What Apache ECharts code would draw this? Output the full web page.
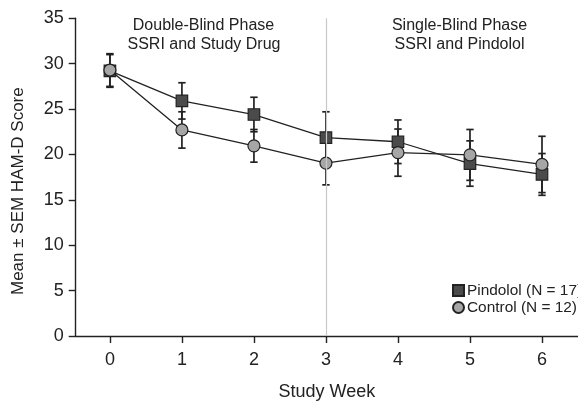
<!DOCTYPE html>
<html>
<head>
<meta charset="utf-8">
<script src="https://cdn.jsdelivr.net/npm/echarts@6/dist/echarts.min.js"></script>
<style>
html,body{margin:0;padding:0;background:#fff;}
#chart{width:578px;height:406px;}
</style>
</head>
<body>
<div id="chart"></div>
<script>
// ---- data ----
var weeks = [0, 1, 2, 3, 4, 5, 6];
var pindololMean = [29.2, 25.9, 24.4, 21.85, 21.4, 19.0, 17.8];
var pindololSem  = [1.8, 2.0, 1.9, 2.85, 2.4, 2.5, 2.3];
var controlMean  = [29.3, 22.7, 20.95, 19.05, 20.2, 19.95, 18.9];
var controlSem   = [1.8, 2.0, 1.8, 2.4, 2.6, 2.8, 3.1];
var xTicks = [0, 1, 2, 3, 4, 5, 6];
var yTicks = [0, 5, 10, 15, 20, 25, 30, 35];
var phaseWeek = 3;
var seriesNames = ['Pindolol (N = 17)', 'Control (N = 12)'];

var FONT = '"Liberation Sans", Arial, Helvetica, sans-serif';
var INK = '#222';

function pairs(means) { return weeks.map(function (w, i) { return [w, means[i]]; }); }
function errs(means, sem) { return weeks.map(function (w, i) { return [w, means[i] - sem[i], means[i] + sem[i]]; }); }

function errRender(params, api) {
  var x = api.value(0);
  var lo = api.coord([x, api.value(1)]);
  var hi = api.coord([x, api.value(2)]);
  var hw = 3.7;
  var st = { stroke: INK, lineWidth: 1.7 };
  return {
    type: 'group',
    children: [
      { type: 'line', shape: { x1: lo[0], y1: lo[1], x2: hi[0], y2: hi[1] }, style: st },
      { type: 'line', shape: { x1: lo[0] - hw, y1: lo[1], x2: lo[0] + hw, y2: lo[1] }, style: st },
      { type: 'line', shape: { x1: hi[0] - hw, y1: hi[1], x2: hi[0] + hw, y2: hi[1] }, style: st }
    ]
  };
}

var chart = echarts.init(document.getElementById('chart'), null, { renderer: 'canvas' });
chart.setOption({
  animation: false,
  backgroundColor: '#fff',
  textStyle: { fontFamily: FONT, color: INK },
  grid: { left: 75.7, top: 18.3, bottom: 62.7, right: -11.6, containLabel: false },
  xAxis: {
    type: 'value', min: -0.475, max: 6.5,
    name: 'Study Week', nameLocation: 'middle', nameGap: 47,
    nameTextStyle: { fontSize: 18, color: INK, fontFamily: FONT },
    axisLine: { show: true, onZero: false, lineStyle: { color: INK, width: 1.4 } },
    axisTick: { show: true, inside: false, length: 7, customValues: xTicks, lineStyle: { color: INK, width: 1.4 } },
    axisLabel: { customValues: xTicks, margin: 15, fontSize: 18, color: INK, fontFamily: FONT },
    splitLine: { show: false }
  },
  yAxis: {
    type: 'value', min: 0, max: 35, interval: 5,
    name: 'Mean \u00b1 SEM HAM-D Score', nameLocation: 'middle', nameGap: 49,
    nameTextStyle: { fontSize: 17, color: INK, fontFamily: FONT, padding: [0, 28, 0, 0] },
    axisLine: { show: true, onZero: false, lineStyle: { color: INK, width: 1.4 } },
    axisTick: { show: true, inside: false, length: 7, lineStyle: { color: INK, width: 1.4 } },
    axisLabel: { margin: 12, fontSize: 18, color: INK, fontFamily: FONT,
      formatter: function (v) { return yTicks.indexOf(v) >= 0 ? String(v) : ''; } },
    splitLine: { show: false }
  },
  legend: {
    orient: 'vertical', left: 452, top: 283, padding: 0,
    itemWidth: 11, itemHeight: 11, itemGap: 2,
    textStyle: { fontSize: 15.4, color: INK, fontFamily: FONT, padding: [0, 0, 0, -2] },
    data: [
      { name: seriesNames[0], icon: 'rect' },
      { name: seriesNames[1], icon: 'circle' }
    ]
  },
  graphic: [
    { type: 'text', x: 203.5, y: 25.5, style: { text: 'Double-Blind Phase', fontSize: 16, fontFamily: FONT, fill: INK, align: 'center', verticalAlign: 'middle' } },
    { type: 'text', x: 204, y: 44.8, style: { text: 'SSRI and Study Drug', fontSize: 16, fontFamily: FONT, fill: INK, align: 'center', verticalAlign: 'middle' } },
    { type: 'text', x: 459.5, y: 26, style: { text: 'Single-Blind Phase', fontSize: 16, fontFamily: FONT, fill: INK, align: 'center', verticalAlign: 'middle' } },
    { type: 'text', x: 459.5, y: 44.8, style: { text: 'SSRI and Pindolol', fontSize: 16, fontFamily: FONT, fill: INK, align: 'center', verticalAlign: 'middle' } }
  ],
  series: [
    {
      type: 'custom', name: 'errP', renderItem: errRender, data: errs(pindololMean, pindololSem),
      encode: { x: 0, y: [1, 2] }, z: 2, silent: true,
      markLine: {
        silent: true, symbol: 'none', label: { show: false },
        lineStyle: { color: '#c8c8c8', width: 1.2, type: 'solid' },
        data: [{ xAxis: phaseWeek }]
      }
    },
    { type: 'custom', name: 'errC', renderItem: errRender, data: errs(controlMean, controlSem), encode: { x: 0, y: [1, 2] }, z: 2, silent: true },
    {
      type: 'line', name: seriesNames[0], data: pairs(pindololMean), z: 3,
      symbol: 'rect', symbolSize: 11.5, showAllSymbol: true,
      lineStyle: { color: INK, width: 1.3 },
      itemStyle: { color: '#4b4b4b', borderColor: '#222', borderWidth: 1.2 }
    },
    {
      type: 'line', name: seriesNames[1], data: pairs(controlMean), z: 4,
      symbol: 'circle', symbolSize: 12, showAllSymbol: true,
      lineStyle: { color: INK, width: 1.3 },
      itemStyle: { color: '#a6a6a6', borderColor: '#222', borderWidth: 1.2 }
    }
  ]
});
</script>
</body>
</html>
